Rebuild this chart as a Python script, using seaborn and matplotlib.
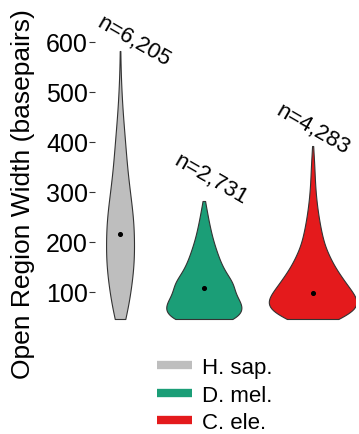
import numpy as np
import pandas as pd
import matplotlib.pyplot as plt
import seaborn as sns
from matplotlib.lines import Line2D

# species and the counts shown above each violin
species = ['H. sap.', 'D. mel.', 'C. ele.']
n_regions = [6205, 2731, 4283]
colors = ['#bebebe', '#1b9e77', '#e41a1c']

hsap_width = [46, 70, 94, 118, 142, 166, 190, 216, 240, 264, 290, 315, 340, 365, 390, 415, 440, 465, 490, 515, 540, 582]
hsap_count = [12, 14, 17, 20, 23, 25, 25, 25, 24, 22, 19, 16, 13, 11, 10, 8, 6, 4, 3, 2, 1, 1]
dmel_width = [46, 66, 86, 108, 126, 146, 166, 186, 206, 226, 246, 266, 282]
dmel_count = [68, 74, 66, 56, 46, 36, 28, 22, 16, 12, 8, 5, 1]
cele_width = [46, 62, 80, 98, 118, 140, 165, 190, 215, 240, 265, 290, 315, 340, 365, 392]
cele_count = [34, 73, 72, 63, 57, 49, 38, 25, 19, 14, 10, 7, 5, 4, 3, 1]

frames = []
for sp, w, c in zip(species, [hsap_width, dmel_width, cele_width], [hsap_count, dmel_count, cele_count]):
    frames.append(pd.DataFrame({'species': sp, 'width': np.repeat(w, c)}))
df = pd.concat(frames, ignore_index=True)

# x position and drawn width of each violin
pos = {'H. sap.': 0.0, 'D. mel.': 0.87, 'C. ele.': 2.0}
vwidth = {'H. sap.': 0.29, 'D. mel.': 0.78, 'C. ele.': 0.91}
df['pos'] = df['species'].map(pos)

sns.set_theme(style='white')
plt.rcParams['font.family'] = ['Liberation Sans', 'DejaVu Sans']
plt.rcParams['text.color'] = 'black'
plt.rcParams['axes.labelcolor'] = 'black'
plt.rcParams['ytick.color'] = 'black'

fig = plt.figure(figsize=(3.59, 4.35), dpi=100)
ax = fig.add_axes([95 / 359, 110 / 435, 260 / 359, 320 / 435])

for sp, c in zip(species, colors):
    sns.violinplot(data=df[df['species'] == sp], x='pos', y='width', native_scale=True,
                   inner=None, cut=0, density_norm='width', width=vwidth[sp], bw_adjust=1.0,
                   linewidth=0.8, linecolor='#333333', color=c, saturation=1, ax=ax)

# median dots
med = df.groupby('species')['width'].median()
ax.scatter([pos[s] for s in species], [med[s] for s in species], color='black', s=7, zorder=3)

# n labels above the violins
top = df.groupby('species')['width'].max()
shift = {'H. sap.': (0.145, 20), 'D. mel.': (0.07, 44), 'C. ele.': (0.0, 34)}
for sp, n in zip(species, n_regions):
    dx, dy = shift[sp]
    ax.text(pos[sp] + dx, top[sp] + dy, f'n={n:,}', rotation=-30, ha='center', va='center',
            fontsize=16, clip_on=False)

ax.set_xlim(-0.26, 2.44)
ax.set_ylim(36, 676)
ax.set_yticks([100, 200, 300, 400, 500, 600])
ax.set_xticks([])
ax.set_xlabel('')
ax.set_ylabel('Open Region Width (basepairs)', fontsize=19)
ax.yaxis.set_label_coords(-0.23, 0.41)
ax.tick_params(axis='y', left=True, length=4, width=0.8, color='#333333', labelsize=18, pad=1)
sns.despine(ax=ax, left=True, bottom=True)

handles = [Line2D([0], [0], color=c, lw=6, solid_capstyle='butt') for c in colors]
fig.legend(handles, species, loc='upper left', bbox_to_anchor=(148 / 359, 86 / 435),
           frameon=False, fontsize=16, handlelength=1.6, handletextpad=0.45,
           labelspacing=0.3, borderaxespad=0)

fig.savefig('out.png', dpi=100)
